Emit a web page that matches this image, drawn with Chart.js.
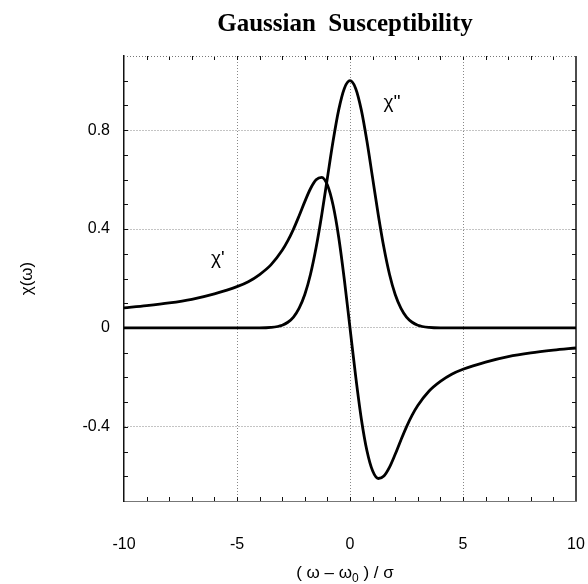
<!DOCTYPE html>
<html>
<head>
<meta charset="utf-8">
<script src="https://cdn.jsdelivr.net/npm/chart.js@4"></script>
<style>
  html, body { margin: 0; padding: 0; background: #fff; overflow: hidden; }
  canvas { display: block; }
</style>
</head>
<body>
<canvas id="c" width="588" height="584"></canvas>
<script>
// Gaussian susceptibility: dispersion (chi') and absorption (chi'') vs detuning

const xValues = [-10, -9, -8, -7, -6, -5, -4.5, -4, -3.5, -3, -2.75, -2.5, -2.25, -2, -1.75, -1.5, -1.25, -1, -0.75, -0.5, -0.25,
    0, 0.25, 0.5, 0.75, 1, 1.25, 1.5, 1.75, 2, 2.25, 2.5, 2.75, 3, 3.5, 4, 4.5, 5, 6, 7, 8, 9, 10];

const chiReal = [0.081, 0.090, 0.101, 0.116, 0.138, 0.167, 0.187, 0.216, 0.255, 0.314, 0.353, 0.400, 0.454, 0.511, 0.563, 0.599, 0.609, 0.578, 0.497, 0.367, 0.195,
    0, -0.195, -0.367, -0.497, -0.578, -0.609, -0.599, -0.563, -0.511, -0.454, -0.400, -0.353, -0.314, -0.255, -0.216, -0.187, -0.167, -0.138, -0.116, -0.101, -0.090, -0.081];

const chiImag = [0, 0, 0, 0, 0, 0, 0, 0, 0.002, 0.011, 0.023, 0.044, 0.080, 0.135, 0.216, 0.325, 0.458, 0.607, 0.755, 0.882, 0.969,
    1, 0.969, 0.882, 0.755, 0.607, 0.458, 0.325, 0.216, 0.135, 0.080, 0.044, 0.023, 0.011, 0.002, 0, 0, 0, 0, 0, 0, 0, 0];

const xTicks = [-10, -5, 0, 5, 10];
const yTicks = [-0.4, 0, 0.4, 0.8];

// curve annotations, in data coordinates
const curveLabels = [
    { text: "\u03c7'", x: -5.85, y: 0.28 },
    { text: "\u03c7''", x: 1.86, y: 0.91 }
];

const SANS = '"Liberation Sans", Arial, sans-serif';

const toPoints = ys => xValues.map((x, i) => ({ x: x, y: ys[i] }));

// title, frame, inward minor ticks, curve labels, x title with subscript
const decorations = {
    id: 'decorations',
    beforeDatasetsDraw(chart) {
        const { ctx, chartArea: a, scales: { x, y } } = chart;
        ctx.save();
        ctx.strokeStyle = '#111';
        ctx.lineWidth = 1;
        for (let v = -9; v <= 9; v++) {
            const px = Math.round(x.getPixelForValue(v)) + 0.5;
            ctx.beginPath();
            ctx.moveTo(px, a.bottom); ctx.lineTo(px, a.bottom - 4);
            ctx.moveTo(px, a.top); ctx.lineTo(px, a.top + 4);
            ctx.stroke();
        }
        for (let k = -6; k <= 10; k++) {
            const py = Math.round(y.getPixelForValue(k / 10)) + 0.5;
            ctx.beginPath();
            ctx.moveTo(a.left, py); ctx.lineTo(a.left + 4, py);
            ctx.moveTo(a.right, py); ctx.lineTo(a.right - 4, py);
            ctx.stroke();
        }
        // top edge dotted, right edge solid
        ctx.strokeStyle = '#777';
        ctx.setLineDash([1, 2]);
        ctx.beginPath();
        ctx.moveTo(a.left, a.top + 0.5); ctx.lineTo(a.right, a.top + 0.5);
        ctx.stroke();
        ctx.setLineDash([]);
        ctx.strokeStyle = '#111';
        ctx.lineWidth = 1.5;
        ctx.beginPath();
        ctx.moveTo(a.right, a.top); ctx.lineTo(a.right, a.bottom);
        ctx.stroke();
        ctx.restore();
    },
    afterDatasetsDraw(chart) {
        const { ctx, chartArea: a, scales: { x, y } } = chart;
        ctx.save();
        ctx.fillStyle = '#000';
        ctx.font = 'bold 25px "Liberation Serif", serif';
        ctx.textAlign = 'center';
        ctx.textBaseline = 'alphabetic';
        ctx.fillText('Gaussian  Susceptibility', 345, 31);

        ctx.textBaseline = 'middle';
        ctx.font = '19px ' + SANS;
        curveLabels.forEach(l => {
            ctx.fillText(l.text, x.getPixelForValue(l.x), y.getPixelForValue(l.y));
        });

        // x axis title: ( ω – ω0 ) / σ with subscript 0
        const main = '17px ' + SANS, sub = '12px ' + SANS;
        const parts = [['( \u03c9 \u2013 \u03c9', main, 0], ['0', sub, 4], [' ) / \u03c3', main, 0]];
        let total = 0;
        parts.forEach(p => { ctx.font = p[1]; total += ctx.measureText(p[0]).width; });
        let cx = 345 - total / 2;
        ctx.textAlign = 'left';
        ctx.textBaseline = 'alphabetic';
        parts.forEach(p => {
            ctx.font = p[1];
            ctx.fillText(p[0], cx, 578 + p[2]);
            cx += ctx.measureText(p[0]).width;
        });
        ctx.restore();
    }
};

new Chart(document.getElementById('c'), {
    type: 'line',
    data: {
        datasets: [
            {
                label: "chi'",
                data: toPoints(chiReal),
                borderColor: '#000',
                borderWidth: 2.8,
                pointRadius: 0,
                cubicInterpolationMode: 'monotone',
                fill: false
            },
            {
                label: "chi''",
                data: toPoints(chiImag),
                borderColor: '#000',
                borderWidth: 2.8,
                pointRadius: 0,
                cubicInterpolationMode: 'monotone',
                fill: false
            }
        ]
    },
    options: {
        responsive: false,
        animation: false,
        layout: { padding: { top: 56, right: 12, left: 0, bottom: 0 } },
        plugins: {
            legend: { display: false },
            tooltip: { enabled: false },
            title: { display: false }
        },
        scales: {
            x: {
                type: 'linear',
                min: -10,
                max: 10,
                afterBuildTicks: s => { s.ticks = xTicks.map(v => ({ value: v })); },
                afterFit: s => { s.height = 83; s.paddingLeft = 0; s.paddingRight = 0; },
                ticks: {
                    color: '#000',
                    padding: 34,
                    font: { family: SANS, size: 16 },
                    callback: v => String(v)
                },
                grid: {
                    drawTicks: false,
                    color: ctx => (ctx.tick && Math.abs(ctx.tick.value) === 10) ? 'rgba(0,0,0,0)' : '#888',
                    lineWidth: 1
                },
                border: { display: true, color: '#777', width: 1, dash: [1, 2] }
            },
            y: {
                type: 'linear',
                min: -0.7,
                max: 1.1,
                afterBuildTicks: s => { s.ticks = yTicks.map(v => ({ value: v })); },
                afterFit: s => { s.width = 124; s.paddingTop = 0; s.paddingBottom = 0; },
                ticks: {
                    color: '#000',
                    padding: 14,
                    font: { family: SANS, size: 16 },
                    callback: v => String(Math.round(v * 10) / 10)
                },
                grid: { drawTicks: false, color: '#888', lineWidth: 1 },
                border: { display: true, color: '#111', width: 1.5, dash: [1, 2] },
                title: {
                    display: true,
                    text: '\u03c7(\u03c9)',
                    color: '#000',
                    padding: { top: 17, bottom: 0 },
                    font: { family: SANS, size: 17 }
                }
            }
        }
    },
    plugins: [decorations]
});
</script>
</body>
</html>
